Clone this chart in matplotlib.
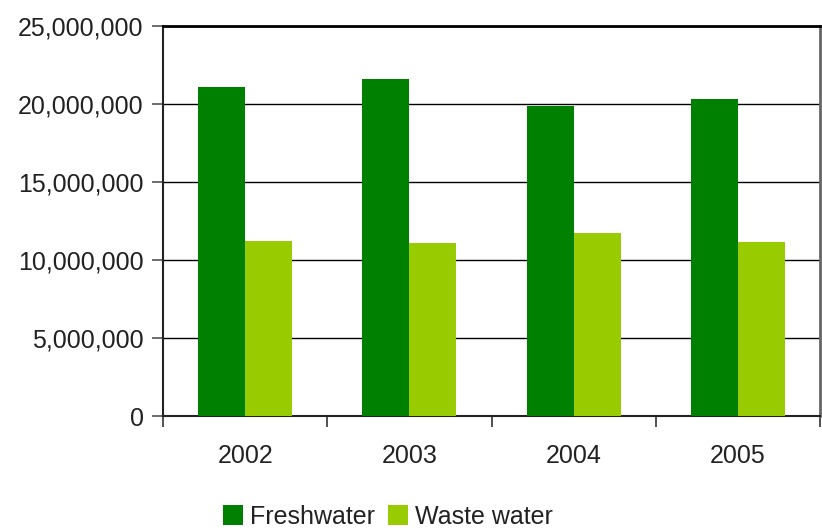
import numpy as np
import matplotlib.pyplot as plt
from matplotlib.ticker import FuncFormatter

years = ['2002', '2003', '2004', '2005']
freshwater = [21100000, 21600000, 19900000, 20300000]
waste_water = [11200000, 11100000, 11700000, 11150000]

plt.rcParams['font.family'] = ['Liberation Sans', 'DejaVu Sans']

fig = plt.figure(figsize=(8.22, 5.32), dpi=100)
ax = fig.add_axes([163 / 822, 1 - 416 / 532, (820 - 163) / 822, (416 - 26) / 532])

x = np.arange(len(years))
w = 0.286
ax.bar(x - w / 2, freshwater, w, color='#008000', label='Freshwater', zorder=3)
ax.bar(x + w / 2, waste_water, w, color='#99cc00', label='Waste water', zorder=3)

ax.set_xlim(-0.5, 3.5)
ax.set_ylim(0, 25000000)
ax.set_yticks(range(0, 25000001, 5000000))
ax.yaxis.set_major_formatter(FuncFormatter(lambda v, p: f'{int(v):,}'))
ax.yaxis.grid(True, color='black', linewidth=1, zorder=0)

ax.set_xticks(x)
ax.set_xticklabels(years)
ax.set_xticks(np.arange(-0.5, 4, 1), minor=True)
ax.tick_params(axis='x', which='major', length=0, pad=20, labelsize=18, labelcolor='#222222')
ax.tick_params(axis='x', which='minor', length=8, width=1.2, direction='out', color='#333333')
ax.tick_params(axis='y', length=8, width=1.2, pad=6, color='#555555', labelsize=18, labelcolor='#222222')

ax.spines['top'].set_linewidth(2)
ax.spines['top'].set_color('black')
ax.spines['left'].set_color('#222222')
ax.spines['left'].set_linewidth(1.5)
ax.spines['bottom'].set_color('#222222')
ax.spines['bottom'].set_linewidth(1.5)
ax.spines['right'].set_color('#666666')
ax.spines['right'].set_linewidth(2)

fig.legend(loc='lower center', bbox_to_anchor=(388 / 822, -0.036), ncol=2, frameon=False,
           fontsize=18, handlelength=0.8, handleheight=0.8, handletextpad=0.3,
           columnspacing=0.5, labelcolor='#222222')

fig.savefig('out.png', dpi=100)
